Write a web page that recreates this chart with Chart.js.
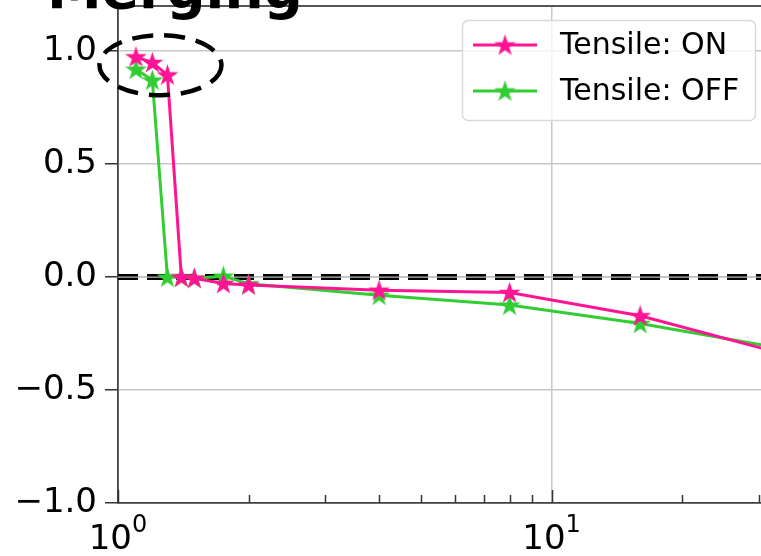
<!DOCTYPE html>
<html>
<head>
<meta charset="utf-8">
<script src="https://cdn.jsdelivr.net/npm/chart.js@4.4.1/dist/chart.umd.min.js"></script>
<style>
  html, body { margin: 0; padding: 0; background: #fff; overflow: hidden; }
</style>
</head>
<body>
<canvas id="chart" width="761" height="556"></canvas>
<script>
// values
const steps = [1.1, 1.2, 1.3, 1.4, 1.5, 1.75, 2, 4, 8, 16, 32];
const tensileOn  = [0.975, 0.95, 0.895, 0.0, -0.005, -0.028, -0.035, -0.058, -0.068, -0.171, -0.325];
const tensileOff = [0.92, 0.872, 0.0, 0.0, -0.005, 0.004, -0.03, -0.08, -0.124, -0.205, -0.307];
const seriesNames = ["Tensile: ON", "Tensile: OFF"];
const yTicks = [-1, -0.5, 0, 0.5, 1];
const xTicks = [1, 2, 3, 4, 5, 6, 7, 8, 9, 10, 20, 30];
const xMajor = [1, 10];
const titleText = "Merging";

const PINK = "#ff1493";
const GREEN = "#32cd32";
const FONT = "'DejaVu Sans', sans-serif";

// filled five point star, used as point style
function starImage(color, r) {
  const c = document.createElement("canvas");
  const s = Math.ceil(r * 2 + 2);
  c.width = s; c.height = s;
  const g = c.getContext("2d");
  const cx = s / 2, cy = s / 2 + 0.8;
  g.beginPath();
  for (let k = 0; k < 10; k++) {
    const rr = k % 2 === 0 ? r : r * 0.382;
    const a = -Math.PI / 2 + k * Math.PI / 5;
    const px = cx + rr * Math.cos(a), py = cy + rr * Math.sin(a);
    k === 0 ? g.moveTo(px, py) : g.lineTo(px, py);
  }
  g.closePath();
  g.fillStyle = color;
  g.fill();
  return c;
}

const starOn = starImage(PINK, 11.5);
const starOff = starImage(GREEN, 11.5);

const zeroLine = {
  id: "zeroLine",
  beforeDatasetsDraw(chart) {
    const { ctx, chartArea: a, scales } = chart;
    const y = scales.y.getPixelForValue(0);
    ctx.save();
    ctx.beginPath();
    ctx.setLineDash([20, 9]);
    ctx.strokeStyle = "#000";
    ctx.lineWidth = 6;
    ctx.moveTo(a.left, y);
    ctx.lineTo(a.right, y);
    ctx.stroke();
    ctx.setLineDash([]);
    ctx.strokeStyle = "#bdbdbd";
    ctx.lineWidth = 1.3;
    ctx.beginPath();
    ctx.moveTo(a.left, y);
    ctx.lineTo(a.right, y);
    ctx.stroke();
    ctx.restore();
  }
};

const decorations = {
  id: "decorations",
  afterDraw(chart) {
    const { ctx, chartArea: a, scales } = chart;
    const x = scales.x, y = scales.y;
    ctx.save();

    // top spine
    ctx.strokeStyle = "#555";
    ctx.lineWidth = 1.8;
    ctx.beginPath();
    ctx.moveTo(a.left, a.top);
    ctx.lineTo(a.right + 2, a.top);
    ctx.stroke();

    // inward x ticks
    ctx.strokeStyle = "#333";
    ctx.lineWidth = 1.5;
    xTicks.forEach(v => {
      const px = Math.round(x.getPixelForValue(v)) + 0.5;
      const len = xMajor.includes(v) ? 13 : 8;
      ctx.beginPath();
      ctx.moveTo(px, a.bottom);
      ctx.lineTo(px, a.bottom - len);
      ctx.stroke();
    });

    // x labels 10^n
    ctx.fillStyle = "#000";
    ctx.textBaseline = "alphabetic";
    xMajor.forEach(v => {
      const px = x.getPixelForValue(v);
      const exp = String(Math.round(Math.log10(v)));
      ctx.font = "34px " + FONT;
      const wb = ctx.measureText("10").width;
      ctx.font = "24px " + FONT;
      const we = ctx.measureText(exp).width;
      const x0 = px - (wb + we) / 2;
      ctx.font = "34px " + FONT;
      ctx.fillText("10", x0, 549);
      ctx.font = "24px " + FONT;
      ctx.fillText(exp, x0 + wb, 532);
    });

    // dashed ellipse round the first points
    ctx.strokeStyle = "#000";
    ctx.lineWidth = 4.5;
    ctx.setLineDash([21, 11]);
    ctx.beginPath();
    ctx.ellipse(x.getPixelForValue(1.253), y.getPixelForValue(0.938), 61, 30, 0, 0, Math.PI * 2);
    ctx.stroke();
    ctx.setLineDash([]);

    // legend
    ctx.beginPath();
    ctx.roundRect(462.5, 20.5, 293, 100, 6);
    ctx.fillStyle = "rgba(255,255,255,0.8)";
    ctx.fill();
    ctx.strokeStyle = "#d9d9d9";
    ctx.lineWidth = 1.5;
    ctx.stroke();
    chart.data.datasets.forEach((ds, i) => {
      const ly = 45 + i * 46;
      ctx.strokeStyle = ds.borderColor;
      ctx.lineWidth = 3;
      ctx.beginPath();
      ctx.moveTo(473, ly);
      ctx.lineTo(537, ly);
      ctx.stroke();
      const img = ds.pointStyle;
      ctx.drawImage(img, 505 - img.width / 2, ly - img.height / 2);
      ctx.fillStyle = "#000";
      ctx.font = "30px " + FONT;
      ctx.textBaseline = "middle";
      ctx.fillText(ds.label, 560, ly + 1);
    });

    // title, cut by the top edge
    ctx.fillStyle = "#000";
    ctx.font = "bold 55px " + FONT;
    ctx.textBaseline = "alphabetic";
    ctx.fillText(titleText, 47, 8);

    ctx.restore();
  }
};

new Chart(document.getElementById("chart"), {
  type: "line",
  data: {
    datasets: [
      {
        label: seriesNames[0],
        data: steps.map((s, i) => ({ x: s, y: tensileOn[i] })),
        borderColor: PINK,
        backgroundColor: PINK,
        borderWidth: 3,
        pointStyle: starOn,
        pointRadius: 6,
        tension: 0
      },
      {
        label: seriesNames[1],
        data: steps.map((s, i) => ({ x: s, y: tensileOff[i] })),
        borderColor: GREEN,
        backgroundColor: GREEN,
        borderWidth: 3,
        pointStyle: starOff,
        pointRadius: 6,
        tension: 0
      }
    ]
  },
  options: {
    responsive: false,
    animation: false,
    layout: { autoPadding: false, padding: { top: 6, right: 0, bottom: 0, left: 0 } },
    plugins: {
      legend: { display: false },
      tooltip: { enabled: false },
      title: { display: false }
    },
    scales: {
      x: {
        type: "logarithmic",
        min: 1,
        max: 30.4,
        afterBuildTicks: s => { s.ticks = xTicks.map(v => ({ value: v, major: xMajor.includes(v) })); },
        afterFit: s => { s.height = 53; s.paddingLeft = 0; s.paddingRight = 0; },
        ticks: { display: false },
        grid: {
          drawTicks: false,
          lineWidth: 1.5,
          color: c => (c.tick && xMajor.includes(c.tick.value) ? "#c8c8c8" : "rgba(0,0,0,0)")
        },
        border: { display: true, color: "#444", width: 1.8 }
      },
      y: {
        min: -1,
        max: 1.2,
        afterBuildTicks: s => { s.ticks = yTicks.map(v => ({ value: v })); },
        afterFit: s => { s.width = 118; s.paddingTop = 0; s.paddingBottom = 0; },
        ticks: {
          color: "#000",
          padding: 8,
          font: { family: "DejaVu Sans", size: 34 },
          callback: v => v.toFixed(1).replace("-", "\u2212")
        },
        grid: {
          lineWidth: 1.5,
          color: "#c8c8c8",
          tickLength: 13,
          tickColor: "#333",
          tickWidth: 1.5
        },
        border: { display: true, color: "#444", width: 1.8 }
      }
    }
  },
  plugins: [zeroLine, decorations]
});
</script>
</body>
</html>
